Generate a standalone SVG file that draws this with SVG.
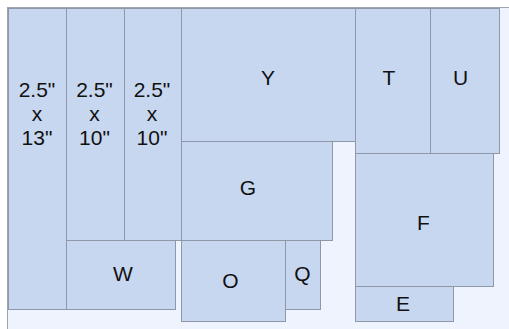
<svg xmlns="http://www.w3.org/2000/svg" width="509" height="329" viewBox="0 0 509 329">
<style>
.box{fill:#c7d7f0;stroke:#8e98a8;stroke-width:1}
text{font-family:"Liberation Sans",Arial,sans-serif;font-size:21px;fill:#111;text-anchor:middle}
</style>
<rect x="0" y="0" width="509" height="329" fill="#ffffff"/>
<rect x="7.5" y="7.5" width="502" height="322" fill="#eef3fd" stroke="#a0a6b0" stroke-width="1"/>
<g id="col1"><rect class="box" x="8.5" y="8.5" width="58" height="301"/><text x="37" y="97">2.5"</text><text x="37" y="121">x</text><text x="37" y="145">13"</text></g>
<g id="col2"><rect class="box" x="66.5" y="8.5" width="58" height="232"/><text x="94.5" y="97">2.5"</text><text x="94.5" y="121">x</text><text x="94.5" y="145">10"</text></g>
<g id="col3"><rect class="box" x="124.5" y="8.5" width="57" height="232"/><text x="152" y="97">2.5"</text><text x="152" y="121">x</text><text x="152" y="145">10"</text></g>
<g id="W"><rect class="box" x="66.5" y="240.5" width="109" height="69"/><text x="123" y="281">W</text></g>
<g id="Y"><rect class="box" x="181.5" y="8.5" width="174" height="133"/><text x="268" y="85">Y</text></g>
<g id="G"><rect class="box" x="181.5" y="141.5" width="151" height="99"/><text x="248" y="195">G</text></g>
<g id="O"><rect class="box" x="181.5" y="240.5" width="104" height="81"/><text x="230.5" y="288">O</text></g>
<g id="Q"><rect class="box" x="285.5" y="240.5" width="35" height="69"/><text x="302.5" y="281">Q</text></g>
<g id="T"><rect class="box" x="355.5" y="8.5" width="75" height="145"/><text x="389" y="85">T</text></g>
<g id="U"><rect class="box" x="430.5" y="8.5" width="69" height="145"/><text x="460.5" y="85">U</text></g>
<g id="F"><rect class="box" x="355.5" y="153.5" width="138" height="133"/><text x="423.5" y="230">F</text></g>
<g id="E"><rect class="box" x="355.5" y="286.5" width="98" height="35"/><text x="403" y="311">E</text></g>
<g id="connectors"></g>
</svg>
